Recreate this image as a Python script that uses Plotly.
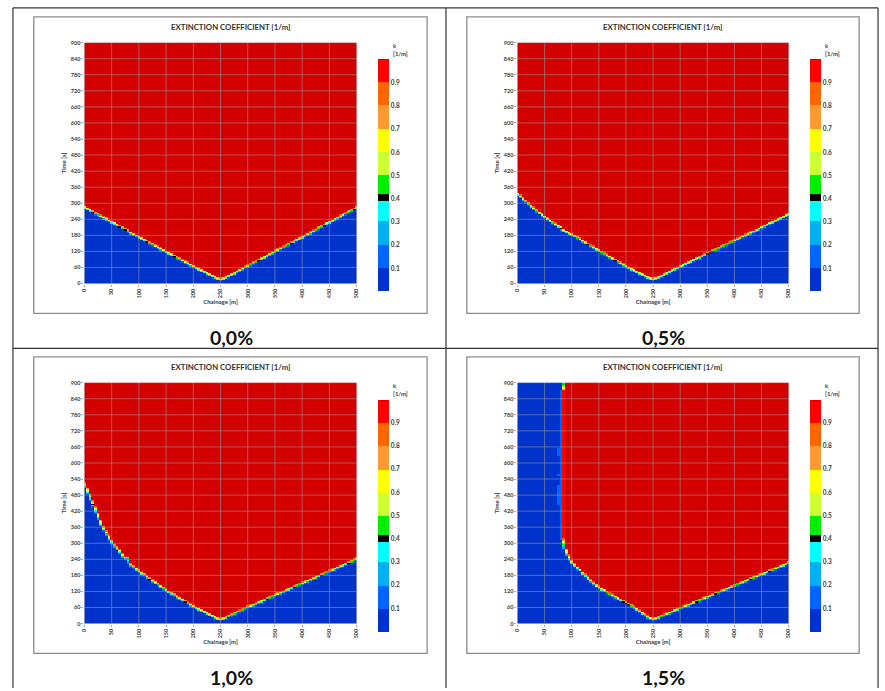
import numpy as np
import plotly.graph_objects as go

# ---------------- data ----------------
chainage_m = np.arange(0, 501, 5)          # grid of the simulation output [m]
time_s = np.arange(0, 901, 5)              # grid of the simulation output [s]

x_tick_vals = [0, 50, 100, 150, 200, 250, 300, 350, 400, 450, 500]
y_tick_vals = [0, 60, 120, 180, 240, 300, 360, 420, 480, 540, 600, 660, 720, 780, 840, 900]
k_tick_vals = [0.1, 0.2, 0.3, 0.4, 0.5, 0.6, 0.7, 0.8, 0.9]
k_tick_text = ["0.1", "0.2", "0.3", "0.4", "0.5", "0.6", "0.7", "0.8", "0.9"]

panel_labels = ["0,0%", "0,5%", "1,0%", "1,5%"]
chart_title = "EXTINCTION COEFFICIENT [1/m]"

# smoke front (arrival time of k ~ 0.5) along the tunnel, per gradient
front_00_x = [0, 50, 72, 78, 82, 100, 150, 200, 237, 246, 250, 254, 265, 300, 400, 500]
front_00_t = [283, 228, 204, 199, 192, 173, 118, 63, 25, 17, 15, 17, 27, 65, 173, 282]

front_05_x = [0, 25, 50, 75, 80, 82, 100, 150, 200, 237, 246, 250, 254, 265, 300, 400, 500]
front_05_t = [333, 287, 247, 212, 208, 200, 183, 122, 63, 25, 17, 15, 17, 27, 63, 160, 257]

front_10_x = [0, 8, 21, 33, 51, 65, 72, 80, 83, 100, 150, 200, 237, 246, 250, 254, 265, 300, 400, 500]
front_10_t = [520, 480, 420, 360, 300, 268, 245, 242, 222, 195, 124, 63, 25, 17, 15, 17, 26, 60, 150, 240]

front_15_x = [86, 85, 82, 82, 84, 87, 92, 100, 116, 145, 186, 210, 237, 246, 250, 254, 265, 300, 400, 500]
front_15_t = [905, 885, 870, 320, 305, 280, 255, 228, 195, 140, 91, 66, 28, 17, 15, 17, 26, 56, 141, 226]

# isolated lighter cells upstream of the wall in the 1,5% case
spot_x = [75, 75, 75, 75]
spot_t0 = [630, 445, 470, 555]
spot_t1 = [655, 515, 490, 555]
spot_k = [0.15, 0.12, 0.18, 0.11]

fronts = [(front_00_x, front_00_t), (front_05_x, front_05_t),
          (front_10_x, front_10_t), (front_15_x, front_15_t)]

# ---------------- build fields ----------------
W, H = 885, 691
PX0, PX1 = 82, 356            # plot area left/right (left column)
PX0R, PX1R = 518, 791         # plot area left/right (right column)
PY0T, PY1T = 40, 283          # top row plot area top/bottom
PY0B, PY1B = 383, 626         # bottom row
SX = (PX1 - PX0) / 500.0      # px per metre
ST = (PY1T - PY0T) / 900.0    # px per second
BAND = 3.6                    # transition width in px

X, T = np.meshgrid(chainage_m, time_s)


def field(fx, ft):
    fx = np.asarray(fx, float)
    ft = np.asarray(ft, float)
    px, pt = X * SX, T * ST
    qx, qt = fx * SX, ft * ST
    d = np.full(X.shape, np.inf)
    for i in range(len(fx) - 1):
        ax, at, bx, bt = qx[i], qt[i], qx[i + 1], qt[i + 1]
        vx, vt = bx - ax, bt - at
        L2 = vx * vx + vt * vt
        if L2 == 0:
            continue
        u = np.clip(((px - ax) * vx + (pt - at) * vt) / L2, 0, 1)
        dd = np.hypot(px - (ax + u * vx), pt - (at + u * vt))
        d = np.minimum(d, dd)
    poly = [(fx[0] - 50, ft[0])] + list(zip(fx, ft)) + [
        (fx[-1] + 50, ft[-1]), (fx[-1] + 50, 2000), (fx[0] - 50, 2000)]
    inside = np.zeros(X.shape, bool)
    n = len(poly)
    for i in range(n):
        xa, ya = poly[i]
        xb, yb = poly[(i + 1) % n]
        if ya == yb:
            continue
        cross = ((ya > T) != (yb > T)) & (X < (xb - xa) * (T - ya) / (yb - ya) + xa)
        inside ^= cross
    s = np.where(inside, 1.0, -1.0)
    return np.clip(0.5 + s * d / BAND, 0, 1)


fields = [field(fx, ft) for fx, ft in fronts]
for sx_, t0, t1, kv in zip(spot_x, spot_t0, spot_t1, spot_k):
    m = (X == sx_) & (T >= t0) & (T <= t1)
    fields[3][m] = np.maximum(fields[3][m], kv)

# ---------------- colours ----------------
bands = [
    (0.00, 0.10, "#0033CC"),
    (0.10, 0.20, "#0066FF"),
    (0.20, 0.30, "#00B0F0"),
    (0.30, 0.39, "#00FFFF"),
    (0.39, 0.42, "#000000"),
    (0.42, 0.50, "#00EE00"),
    (0.50, 0.60, "#CCFF33"),
    (0.60, 0.70, "#FFFF00"),
    (0.70, 0.80, "#FF9933"),
    (0.80, 0.90, "#FF6600"),
    (0.90, 0.995, "#FF0000"),
    (0.995, 1.00, "#D40000"),
]
colorscale = []
for a, b, c in bands:
    colorscale.append([a, c])
    colorscale.append([b, c])

FONT = "Lato"
TXT = "#3a3a3a"

fig = go.Figure()

panels = [
    (PX0, PX1, PY0T, PY1T, 57, 291, 378),
    (PX0R, PX1R, PY0T, PY1T, 57, 291, 813),
    (PX0, PX1, PY0B, PY1B, 400, 634, 378),
    (PX0R, PX1R, PY0B, PY1B, 400, 634, 813),
]

layout = dict(
    width=W, height=H, margin=dict(l=0, r=0, t=0, b=0),
    paper_bgcolor="white", plot_bgcolor="white", showlegend=False,
    font=dict(family=FONT, color=TXT),
)
shapes = []
annotations = []

for i, (x0, x1, y0, y1, cb0, cb1, cbx) in enumerate(panels):
    n = i + 1
    xa = "x" if n == 1 else f"x{n}"
    ya = "y" if n == 1 else f"y{n}"
    fig.add_trace(go.Heatmap(
        x=chainage_m, y=time_s, z=fields[i],
        zmin=0, zmax=1, colorscale=colorscale, zsmooth=False,
        xaxis=xa, yaxis=ya, hoverinfo="skip",
        colorbar=dict(
            x=cbx / W, xanchor="left", y=1 - (cb0 + cb1) / 2 / H, yanchor="middle",
            len=(cb1 - cb0) / H, lenmode="fraction", thickness=11, thicknessmode="pixels",
            xpad=0, ypad=0, outlinewidth=0, tickvals=k_tick_vals, ticktext=k_tick_text,
            ticks="", ticklabelposition="outside",
            tickfont=dict(size=6.5, color=TXT, family=FONT, weight="bold"),
        ),
    ))
    layout["xaxis" if n == 1 else f"xaxis{n}"] = dict(
        domain=[x0 / W, x1 / W], range=[0, 500], anchor=ya,
        tickvals=x_tick_vals, tickangle=-90, showgrid=False, zeroline=False,
        showline=False, ticks="outside", ticklen=2, tickcolor="#aaaaaa",
        tickfont=dict(size=5.5, color=TXT, family=FONT, weight="bold"),
        title=dict(text="Chainage [m]", standoff=2,
                   font=dict(size=6, color=TXT, family=FONT, weight="bold")),
    )
    layout["yaxis" if n == 1 else f"yaxis{n}"] = dict(
        domain=[1 - y1 / H, 1 - y0 / H], range=[0, 900], anchor=xa,
        tickvals=y_tick_vals, showgrid=False, zeroline=False, showline=False,
        ticks="outside", ticklen=2, tickcolor="#aaaaaa",
        tickfont=dict(size=5.5, color=TXT, family=FONT, weight="bold"),
        title=dict(text="Time [s]", standoff=3,
                   font=dict(size=6, color=TXT, family=FONT, weight="bold")),
    )
    # grid lines drawn above the heatmap, at the tick positions
    for xv in x_tick_vals:
        shapes.append(dict(type="line", xref=xa, yref=ya, x0=xv, x1=xv,
                           y0=y_tick_vals[0], y1=y_tick_vals[-1],
                           line=dict(color="rgba(150,150,150,0.75)", width=0.8)))
    for yv in y_tick_vals:
        shapes.append(dict(type="line", xref=xa, yref=ya, y0=yv, y1=yv,
                           x0=x_tick_vals[0], x1=x_tick_vals[-1],
                           line=dict(color="rgba(150,150,150,0.75)", width=0.8)))
    # chart frame
    top_off = 0 if y0 < 300 else 343
    left = 31 if x0 < 400 else 467
    right = 427 if x0 < 400 else 862
    shapes.append(dict(type="rect", xref="paper", yref="paper",
                       x0=left / W, x1=right / W,
                       y0=1 - (313 + top_off) / H, y1=1 - (14 + top_off) / H,
                       line=dict(color="#8c8c8c", width=1.3)))
    annotations.append(dict(xref="paper", yref="paper", x=((left + right) / 2) / W,
                            y=1 - (24 + top_off) / H, text=chart_title, showarrow=False,
                            xanchor="center", yanchor="middle",
                            font=dict(size=7.8, color="#333333", family=FONT, weight="bold")))
    annotations.append(dict(xref="paper", yref="paper", x=(cbx + 14) / W,
                            y=1 - (cb0 - 19) / H, text="k<br>[1/m]", showarrow=False,
                            xanchor="left", yanchor="top", align="left", borderpad=0,
                            font=dict(size=6, color=TXT, family=FONT, weight="bold")))
    annotations.append(dict(xref="paper", yref="paper", x=((left + right) / 2 + 1) / W,
                            y=1 - (337 + top_off) / H, text=panel_labels[i], showarrow=False,
                            xanchor="center", yanchor="middle",
                            font=dict(size=19.5, color="#111111", family=FONT, weight="bold")))

# table borders
for xv in [10, 446, 881]:
    shapes.append(dict(type="line", xref="paper", yref="paper", x0=xv / W, x1=xv / W,
                       y0=0, y1=1 - 5 / H, line=dict(color="#333333", width=1.2)))
for yv in [5, 348.5]:
    shapes.append(dict(type="line", xref="paper", yref="paper", x0=10 / W, x1=881 / W,
                       y0=1 - yv / H, y1=1 - yv / H, line=dict(color="#333333", width=1.2)))

layout["shapes"] = shapes
layout["annotations"] = annotations
fig.update_layout(**layout)

fig.write_html("out.html", config={"displayModeBar": False})
